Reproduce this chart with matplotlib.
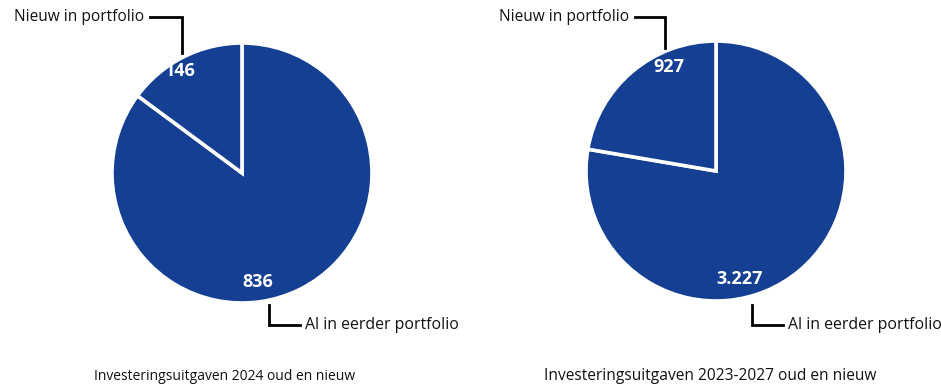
import matplotlib.pyplot as plt

# ───── Data ─────
labels_old_new = ['Al in eerder portfolio', 'Nieuw in portfolio']
values_2024 = [836, 146]
values_2023_2027 = [3227, 927]
value_text_2024 = ['836', '146']
value_text_2023_2027 = ['3.227', '927']
titles = ['Investeringsuitgaven 2024 oud en nieuw',
          'Investeringsuitgaven 2023-2027 oud en nieuw']

BLUE = '#143F93'
W, H = 941, 384

plt.rcParams['font.family'] = ['Open Sans', 'DejaVu Sans']

fig = plt.figure(figsize=(W / 100, H / 100), dpi=100)
ax = fig.add_axes([0, 0, 1, 1])


def py(y):
    # y measured from the top edge -> axes y from the bottom
    return H - y


def draw_pie(values, value_text, cx, cy, title, title_x, title_size,
             val_pos, top_leader, bottom_leader):
    ax.pie(values, startangle=90, counterclock=False, colors=[BLUE, BLUE],
           center=(cx, py(cy)), radius=130,
           wedgeprops=dict(edgecolor='white', linewidth=2.6))
    for txt, (x, y) in zip(value_text, val_pos):
        ax.text(x, py(y), txt, color='white', fontsize=13, fontweight='bold',
                ha='center', va='center', zorder=5)

    # leader for "Nieuw in portfolio"
    (x0, x1, y0, y1) = top_leader
    ax.plot([x0, x1, x1], [py(y0), py(y0), py(y1)], color='black', lw=2,
            solid_joinstyle='miter')
    ax.text(x0 - 6, py(y0), labels_old_new[1], fontsize=11.2, color='#111111',
            ha='right', va='center')

    # leader for "Al in eerder portfolio"
    (x0, x1, y0, y1) = bottom_leader
    ax.plot([x0, x0, x1], [py(y0), py(y1), py(y1)], color='black', lw=2,
            solid_joinstyle='miter')
    ax.text(x1 + 5, py(y1), labels_old_new[0], fontsize=11.4, color='#111111',
            ha='left', va='center')

    ax.text(title_x, py(376), title, fontsize=title_size, color='#111111',
            ha='center', va='center')


draw_pie(values_2024, value_text_2024, 242, 173, titles[0], 225, 10,
         val_pos=[(258, 282), (180, 71)],
         top_leader=(150, 182, 17, 53),
         bottom_leader=(269, 300, 305, 325))

draw_pie(values_2023_2027, value_text_2023_2027, 716, 171, titles[1], 710, 11.2,
         val_pos=[(740, 279), (669, 67)],
         top_leader=(635, 665, 17, 48),
         bottom_leader=(752, 783, 305, 325))

ax.set_xlim(0, W)
ax.set_ylim(0, H)
ax.set_aspect('equal')
ax.axis('off')

fig.savefig('out.png', dpi=100, facecolor='white')
